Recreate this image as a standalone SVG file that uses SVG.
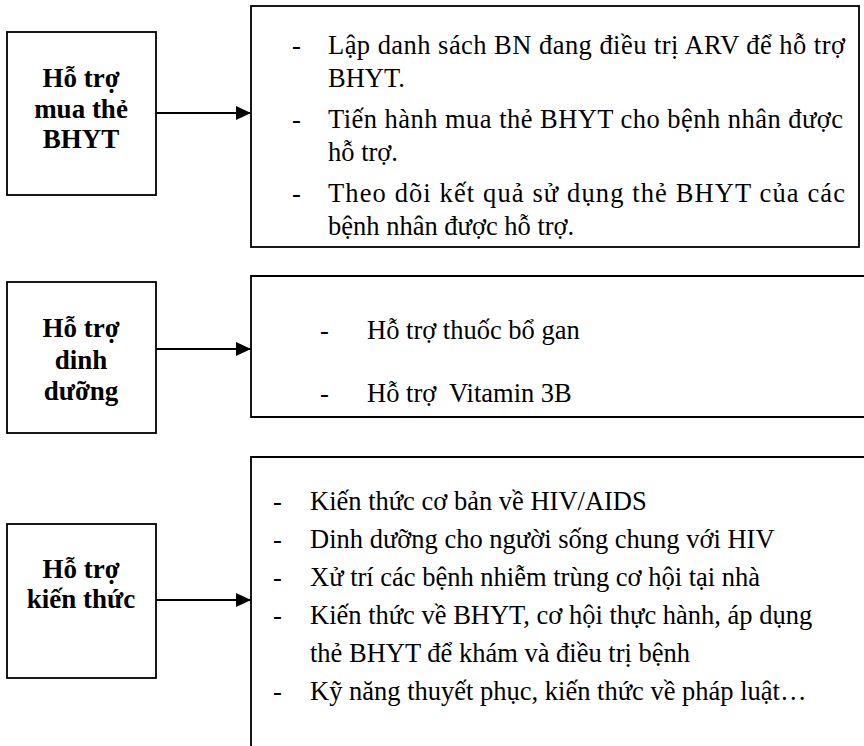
<svg xmlns="http://www.w3.org/2000/svg" width="864" height="746" viewBox="0 0 864 746">
<style>
.box{fill:#fff;stroke:#000;stroke-width:1.8}
.lbl{font-family:"Liberation Serif","Times New Roman",serif;font-weight:bold;font-size:27px;text-anchor:middle;fill:#000}
.txt{font-family:"Liberation Serif","Times New Roman",serif;font-size:26.5px;fill:#000}
.conn{stroke:#000;stroke-width:2;fill:none}
</style>
<defs>
<marker id="ah" markerWidth="15" markerHeight="14" refX="15" refY="7" orient="auto" markerUnits="userSpaceOnUse" viewBox="0 0 15 14">
<path d="M0,0 L15,7 L0,14 Z" fill="#000"/>
</marker>
</defs>
<rect width="864" height="746" fill="#fff"/>
<g id="node-bhyt">
<rect class="box" x="7" y="32" width="149" height="163"/>
<text class="lbl" x="81" y="87">Hỗ trợ</text>
<text class="lbl" x="81" y="118">mua thẻ</text>
<text class="lbl" x="81" y="148">BHYT</text>
</g>
<g id="node-bhyt-detail">
<rect class="box" x="251" y="6" width="608" height="241"/>
<text class="txt" x="292" y="54">-</text>
<text class="txt" x="328" y="54" textLength="517" lengthAdjust="spacing">Lập danh sách BN đang điều trị ARV để hỗ trợ</text>
<text class="txt" x="328" y="87">BHYT.</text>
<text class="txt" x="292" y="128">-</text>
<text class="txt" x="328" y="128" textLength="515" lengthAdjust="spacing">Tiến hành mua thẻ BHYT cho bệnh nhân được</text>
<text class="txt" x="328" y="161">hỗ trợ.</text>
<text class="txt" x="292" y="202">-</text>
<text class="txt" x="328" y="202" textLength="517" lengthAdjust="spacing">Theo dõi kết quả sử dụng thẻ BHYT của các</text>
<text class="txt" x="328" y="235">bệnh nhân được hỗ trợ.</text>
</g>
<g id="node-dinhduong">
<rect class="box" x="7" y="282" width="149" height="151"/>
<text class="lbl" x="81" y="337">Hỗ trợ</text>
<text class="lbl" x="81" y="369">dinh</text>
<text class="lbl" x="81" y="400">dưỡng</text>
</g>
<g id="node-dinhduong-detail">
<path class="box" d="M866,276 H251 V417 H866"/>
<text class="txt" x="320" y="339">-</text>
<text class="txt" x="367" y="339">Hỗ trợ thuốc bổ gan</text>
<text class="txt" x="320" y="402">-</text>
<text class="txt" x="367" y="402" xml:space="preserve">Hỗ trợ  Vitamin 3B</text>
</g>
<g id="node-kienthuc">
<rect class="box" x="7" y="524" width="149" height="154"/>
<text class="lbl" x="81" y="578">Hỗ trợ</text>
<text class="lbl" x="81" y="608">kiến thức</text>
</g>
<g id="node-kienthuc-detail">
<path class="box" d="M866,457 H251 V750"/>
<text class="txt" x="273" y="510">-</text>
<text class="txt" x="310" y="510">Kiến thức cơ bản về HIV/AIDS</text>
<text class="txt" x="273" y="548">-</text>
<text class="txt" x="310" y="548">Dinh dưỡng cho người sống chung với HIV</text>
<text class="txt" x="273" y="586">-</text>
<text class="txt" x="310" y="586">Xử trí các bệnh nhiễm trùng cơ hội tại nhà</text>
<text class="txt" x="273" y="624">-</text>
<text class="txt" x="310" y="624">Kiến thức về BHYT, cơ hội thực hành, áp dụng</text>
<text class="txt" x="310" y="662">thẻ BHYT để khám và điều trị bệnh</text>
<text class="txt" x="273" y="700">-</text>
<text class="txt" x="310" y="700">Kỹ năng thuyết phục, kiến thức về pháp luật…</text>
</g>
<g id="connectors">
<line class="conn" x1="156" y1="113" x2="251" y2="113" marker-end="url(#ah)"/>
<line class="conn" x1="156" y1="349" x2="251" y2="349" marker-end="url(#ah)"/>
<line class="conn" x1="156" y1="600" x2="251" y2="600" marker-end="url(#ah)"/>
</g>
</svg>
